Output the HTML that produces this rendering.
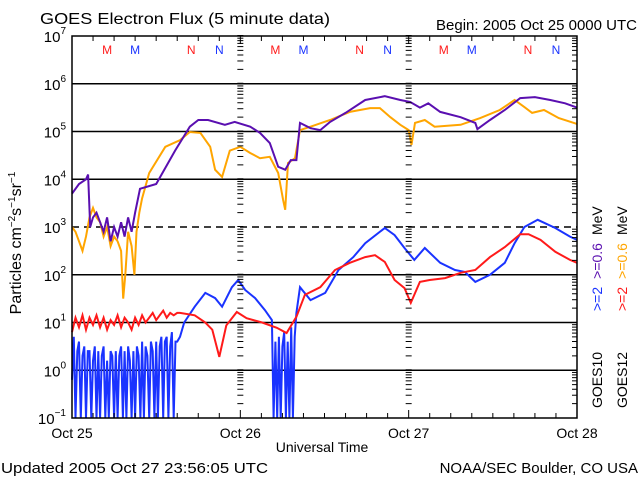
<!DOCTYPE html>
<html><head><meta charset="utf-8"><style>
html,body{margin:0;padding:0;background:#fff}
svg{display:block;font-family:"Liberation Sans",sans-serif}
</style></head><body>
<svg id="chart" width="640" height="480" viewBox="0 0 640 480">
<text x="40" y="24" font-size="16" textLength="290" lengthAdjust="spacingAndGlyphs">GOES Electron Flux (5 minute data)</text>
<text x="637" y="30" font-size="15" text-anchor="end">Begin: 2005 Oct 25 0000 UTC</text>
<text transform="translate(21,243) rotate(-90)" font-size="16" text-anchor="middle">Particles cm<tspan dy="-6" font-size="10">−2</tspan><tspan dy="6">s</tspan><tspan dy="-6" font-size="10">−1</tspan><tspan dy="6">sr</tspan><tspan dy="-6" font-size="10">−1</tspan></text>
<text x="322" y="452" font-size="14" text-anchor="middle">Universal Time</text>
<text x="1" y="473" font-size="15" textLength="267" lengthAdjust="spacingAndGlyphs">Updated 2005 Oct 27 23:56:05 UTC</text>
<text x="638" y="473" font-size="15" text-anchor="end">NOAA/SEC Boulder, CO USA</text>
<g>
<text transform="translate(602,408) rotate(-90)" font-size="14">GOES10</text>
<text transform="translate(602,311) rotate(-90)" font-size="14"><tspan fill="#1a33ff">&gt;=2</tspan><tspan fill="#5a0fb0" dx="8">&gt;=0.6</tspan><tspan fill="#000" dx="8">MeV</tspan></text>
</g>
<g>
<text transform="translate(627,408) rotate(-90)" font-size="14">GOES12</text>
<text transform="translate(627,311) rotate(-90)" font-size="14"><tspan fill="#ff1a1a">&gt;=2</tspan><tspan fill="#ffa500" dx="8">&gt;=0.6</tspan><tspan fill="#000" dx="8">MeV</tspan></text>
</g>
<g id="grid"></g>
<g id="series"></g>
<g id="frame"></g>
</svg>
<script>
// ---- data (hours since 2005 Oct 25 00:00 UTC, log10 flux) ----
const dayLabels = ["Oct 25","Oct 26","Oct 27","Oct 28"];
const decadeExps = [7,6,5,4,3,2,1,0,-1];
const markerLabels = ["M","M","N","N","M","M","N","N","M","M","N","N"];
const markerHours = [5,9,17,21,29,33,41,45,53,57,65,69];
const markerSat = ["12","10","12","10","12","10","12","10","12","10","12","10"];

const purpleHours = [0,1,2,2.3,2.6,3,3.5,4,4.5,5,5.5,6,6.5,7,7.5,8,8.5,9,9.7,12,14.7,16.8,18,19.4,21.8,23.2,25.4,26.8,28.2,29.4,30.4,31.2,32,32.5,34,35.4,36.8,39,41.8,44.6,46.8,48.2,49.6,50.8,52.5,55.4,57.5,57.8,59.6,61.7,63.9,66,68.2,70.3,72];
const purpleLog = [3.7,3.9,4.0,4.1,3.0,3.2,3.3,3.1,2.9,3.2,2.7,3.0,2.8,3.1,2.8,3.2,2.9,3.3,3.8,3.9,4.6,5.1,5.24,5.24,5.14,5.2,5.1,4.97,4.76,4.26,4.2,4.4,4.4,5.18,5.07,5.03,5.2,5.39,5.66,5.74,5.66,5.62,5.5,5.59,5.41,5.3,5.18,5.05,5.24,5.45,5.7,5.72,5.66,5.59,5.5];

const orangeHours = [0,0.5,1,1.5,2,2.5,3,3.5,4,4.5,5,5.5,6,6.5,7,7.3,7.6,8,8.5,8.9,9.2,9.6,10,11,13.3,15.4,16.8,18.3,19.7,20.4,21.4,22.5,24,25.4,26.8,28.2,29.4,30.1,30.4,30.8,31.8,32.5,34,36.8,39.6,42.5,43.9,45.4,46.8,48,48.4,48.9,50.3,51.7,55.4,58.2,61,63.1,64.5,65.6,67.3,69.4,72];
const orangeLog = [3.0,2.9,2.7,2.5,2.8,3.2,3.4,3.2,3.1,2.8,3.0,2.6,2.8,2.7,2.5,1.5,2.0,2.9,2.6,2.0,2.9,3.3,3.6,4.13,4.68,4.82,4.99,4.97,4.68,4.2,4.05,4.6,4.68,4.55,4.44,4.47,4.13,3.57,3.36,4.34,4.44,5.03,5.1,5.24,5.41,5.49,5.49,5.3,5.14,5.03,4.72,5.18,5.24,5.1,5.14,5.28,5.45,5.66,5.51,5.39,5.45,5.28,5.16];

const blueHours = [0,0.25,0.5,0.75,1,1.25,1.5,1.75,2,2.25,2.5,2.75,3,3.25,3.5,3.75,4,4.25,4.5,4.75,5,5.25,5.5,5.75,6,6.25,6.5,6.75,7,7.25,7.5,7.75,8,8.25,8.5,8.75,9,9.25,9.5,9.75,10,10.25,10.5,10.75,11,11.25,11.5,11.75,12,12.25,12.5,12.75,13,13.25,13.5,13.75,14,14.25,14.5,14.75,15,15.4,16,17.5,19,20.4,21.4,22.8,23.7,24.7,26.1,27.5,28.5,28.75,29,29.25,29.5,29.75,30,30.25,30.5,30.75,31,31.25,31.5,31.75,32,32.5,34,36.1,38,40.1,41.8,44.6,46,47.4,48.8,50.3,52.5,54.6,56,57.5,59.6,61.7,63.1,64.5,66.4,68.9,71,72];
const blueLog = [-0.2,0.7,-1,0.4,0.6,-1,0.3,0.5,-1,0.4,0.4,-1,0.2,0.5,-1,0.4,-1,0.3,0.5,-1,0.2,-1,0.4,0.3,-1,0.4,-1,0.3,0.5,-1,0.4,-1,0.5,0.2,-1,0.4,-1,0.5,0.3,-1,0.6,-1,0.5,0.3,-1,0.6,0.4,-1,0.6,-1,0.5,0.7,-1,0.6,0.7,-1,0.5,0.8,-1,0.6,0.6,0.7,1.0,1.33,1.62,1.51,1.33,1.74,1.89,1.68,1.51,1.26,1.05,-1,0.6,-1,0.7,-1,0.5,0.8,-1,0.6,-1,0.9,-1,0.7,1.2,1.74,1.47,1.62,2.1,2.37,2.66,2.98,2.83,2.56,2.31,2.56,2.25,2.1,2.06,1.85,2.0,2.25,2.66,3.0,3.15,2.98,2.8,2.73];

const redHours = [0,0.5,1,1.5,2,2.5,3,3.5,4,4.5,5,5.5,6,6.5,7,7.5,8,8.5,9,9.5,10,10.5,11,11.5,12,12.5,13,13.5,14,14.5,15,15.4,17.5,19,20,21,22,23.5,24.9,27.1,29.2,30.6,32,33.2,35.4,37.5,39.6,41.8,43.2,44.6,46,47.4,48.3,49.6,51,53.2,55.4,57.5,59.6,61.7,63.9,65.1,66.8,68.9,71,72];
const redLog = [0.8,1.1,0.9,1.15,0.85,1.1,0.95,1.15,0.9,1.1,0.85,1.05,0.95,1.15,0.9,1.1,1.0,0.85,1.1,0.95,1.15,1.0,1.1,1.2,1.05,1.15,1.25,1.1,1.2,1.15,1.2,1.2,1.15,1.0,0.85,0.28,0.94,1.22,1.09,1.0,0.89,0.78,1.12,1.58,1.74,2.1,2.25,2.37,2.41,2.27,1.89,1.72,1.41,1.85,1.89,1.93,2.04,2.1,2.37,2.58,2.85,2.85,2.73,2.48,2.31,2.25];

// ---- axes ----
const X0 = 72, X1 = 577, Y0 = 36, DEC = 47.75, YB = Y0 + 8*DEC;
const xScale = h => X0 + h*(X1-X0)/72;
const yScale = lg => Y0 + (7-lg)*DEC;
const NS = "http://www.w3.org/2000/svg";
function mk(tag, attrs, parent){ const e=document.createElementNS(NS,tag); for(const k in attrs) e.setAttribute(k,attrs[k]); parent.appendChild(e); return e; }
const grid = document.getElementById('grid');
const frame = document.getElementById('frame');
const series = document.getElementById('series');

decadeExps.forEach(ex => {
  const y = yScale(ex);
  if (ex < 7 && ex > -1) {
    const l = mk('line',{x1:X0,x2:X1,y1:y,y2:y,stroke:'#000','stroke-width':1.5},grid);
    if (ex === 3) l.setAttribute('stroke-dasharray','7,5');
    
    
  }
  const t = mk('text',{x:66,y:y+6,'font-size':15,'text-anchor':'end'},frame);
  
  
  t.textContent = '10';
  const s = mk('tspan',{dy:-8,'font-size':10},t);
  s.textContent = ex < 0 ? '−' + (-ex) : String(ex);
  if (ex > -1) {
    for (let m = 2; m <= 9; m++) {
      const ym = yScale(ex - 1 + Math.log10(m));
      mk('line',{x1:X1-5,x2:X1,y1:ym,y2:ym,stroke:'#000','stroke-width':1},frame);
      [24,48].forEach(h => { const xd=xScale(h); mk('line',{x1:xd-3,x2:xd+3,y1:ym,y2:ym,stroke:'#000','stroke-width':1},frame); });
    }
    [24,48].forEach(h => { const xd=xScale(h); mk('line',{x1:xd-3,x2:xd+3,y1:yScale(ex)-0.5,y2:yScale(ex)-0.5,stroke:'#000','stroke-width':1},frame); });
  }
});
for (let h = 3; h < 72; h += 3) {
  const x = xScale(h), len = (h % 24 === 0) ? 8 : 5;
  mk('line',{x1:x,x2:x,y1:YB,y2:YB-len,stroke:'#000','stroke-width':1},frame);
  mk('line',{x1:x,x2:x,y1:Y0,y2:Y0+len,stroke:'#000','stroke-width':1},frame);
}
dayLabels.forEach((d,i) => {
  const t = mk('text',{x:xScale(i*24),y:438,'font-size':14,'text-anchor':'middle'},frame);
  
  
  t.textContent = d;
});
markerLabels.forEach((m,i) => {
  const t = mk('text',{x:xScale(markerHours[i]),y:54,'font-size':12,'text-anchor':'middle',fill:markerSat[i]==='12'?'#ff1a1a':'#1a33ff'},frame);
  
  
  t.textContent = m;
});
const border = mk('rect',{x:X0,y:Y0,width:X1-X0,height:YB-Y0,fill:'none',stroke:'#000','stroke-width':1.5},frame);



function drawSeries(hours, logs, color, name){
  const pts = hours.map((h,i)=> xScale(h).toFixed(1)+','+yScale(logs[i]).toFixed(1)).join(' ');
  const p = mk('polyline',{points:pts,fill:'none',stroke:color,'stroke-width':2,'stroke-linejoin':'miter'},series);
  
  
}
drawSeries(blueHours, blueLog, '#1a33ff', 'series-goes10-ge2mev');
drawSeries(redHours, redLog, '#ff1a1a', 'series-goes12-ge2mev');
drawSeries(orangeHours, orangeLog, '#ffa500', 'series-goes12-ge0.6mev');
drawSeries(purpleHours, purpleLog, '#5a0fb0', 'series-goes10-ge0.6mev');
</script>
</body></html>
